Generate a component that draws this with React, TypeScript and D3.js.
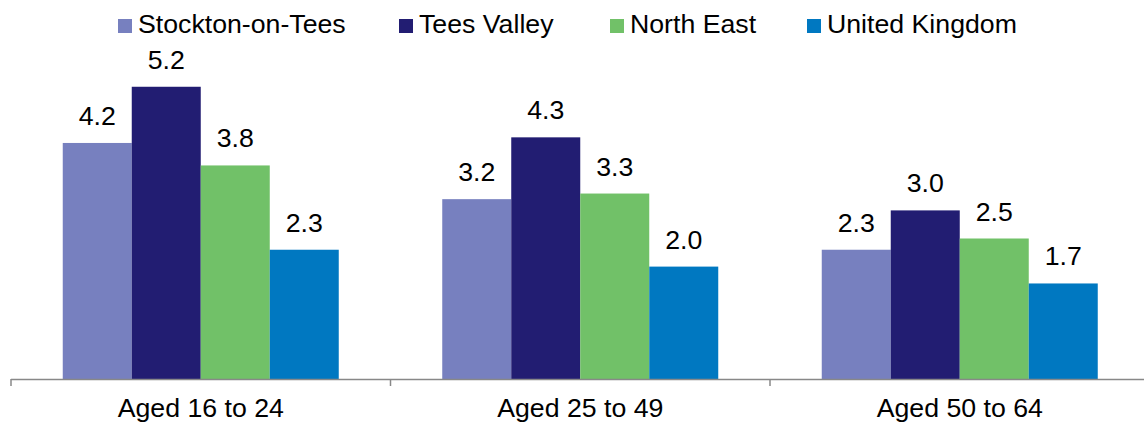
import React from "react";
import * as d3 from "d3";

const categories = ["Aged 16 to 24", "Aged 25 to 49", "Aged 50 to 64"];
const seriesNames = ["Stockton-on-Tees", "Tees Valley", "North East", "United Kingdom"];
const stockton = [4.2, 3.2, 2.3];
const teesValley = [5.2, 4.3, 3.0];
const northEast = [3.8, 3.3, 2.5];
const unitedKingdom = [2.3, 2.0, 1.7];
const colors = ["#7780bf", "#221d72", "#71c168", "#0078c1"];

const seriesValues = [stockton, teesValley, northEast, unitedKingdom];

const W = 1144;
const H = 423;
const FONT = "'Liberation Sans', Arial, sans-serif";
const FS = 26.7;

export default function App() {
  const baseY = 379;
  const x0 = d3.scaleBand<string>().domain(categories).range([11, 11 + 3 * 379.5]).paddingInner(0).paddingOuter(0);
  const x1 = d3.scaleBand<string>().domain(seriesNames).range([0, x0.bandwidth()]).paddingInner(0).paddingOuter(0.75);
  const y = d3.scaleLinear().domain([0, 6]).range([baseY, baseY - 6 * 56.2]);

  const tickXs = categories.map((c) => x0(c)!).concat([x0(categories[2])! + x0.bandwidth()]);
  const legendX = [118, 399, 610, 807];

  return (
    <svg width={W} height={H} style={{ position: "absolute", left: 0, top: 0 }} fontFamily={FONT}>
      <rect width={W} height={H} fill="#fff" />
      {categories.map((c, ci) => (
        <g key={c}>
          {seriesNames.map((s, si) => {
            const v = seriesValues[si][ci];
            const bx = x0(c)! + x1(s)!;
            return (
              <g key={s}>
                <rect x={bx} y={y(v)} width={x1.bandwidth()} height={baseY - y(v)} fill={colors[si]} />
                <text x={bx + x1.bandwidth() / 2} y={y(v) - 18} textAnchor="middle" fontSize={FS} fill="#000">
                  {v.toFixed(1)}
                </text>
              </g>
            );
          })}
          <text x={x0(c)! + x0.bandwidth() / 2} y={417} textAnchor="middle" fontSize={FS} fill="#000">
            {c}
          </text>
        </g>
      ))}
      <line x1={11} x2={W} y1={baseY + 0.5} y2={baseY + 0.5} stroke="#888" strokeWidth={1.5} />
      {tickXs.map((tx, i) => (
        <line key={i} x1={tx} x2={tx} y1={baseY} y2={baseY + 7} stroke="#888" strokeWidth={1.5} />
      ))}
      {seriesNames.map((s, si) => (
        <g key={s}>
          <rect x={legendX[si]} y={19} width={14} height={14} fill={colors[si]} />
          <text x={legendX[si] + 20} y={33} fontSize={FS} fill="#000">
            {s}
          </text>
        </g>
      ))}
    </svg>
  );
}
